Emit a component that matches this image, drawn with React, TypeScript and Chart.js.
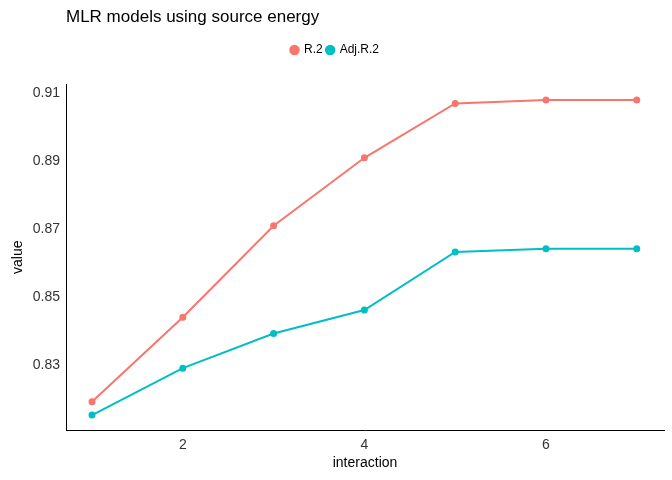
import { useEffect, useRef } from "react"
import { Chart, registerables } from "chart.js"

Chart.register(...registerables)

const interaction = [1, 2, 3, 4, 5, 6, 7]
const r2 = [0.8192, 0.8441, 0.871, 0.891, 0.907, 0.908, 0.908]
const adjR2 = [0.8153, 0.8291, 0.8393, 0.8462, 0.8633, 0.8642, 0.8642]
const xTicks = [2, 4, 6]
const yTicks = [0.83, 0.85, 0.87, 0.89, 0.91]

const FONT = "'Liberation Sans', Arial, sans-serif"

// push plot area down below the legend
const legendMargin = {
  id: "legendMargin",
  beforeInit(chart: any) {
    const orig = chart.legend.fit
    chart.legend.fit = function () {
      orig.bind(chart.legend)()
      this.height += 18
    }
  },
}

export default function App() {
  const canvasRef = useRef<HTMLCanvasElement>(null)

  useEffect(() => {
    document.body.style.margin = "0"
    if (!canvasRef.current) return
    const toPts = (ys: number[]) => ys.map((y, i) => ({ x: interaction[i], y }))
    const chart = new Chart(canvasRef.current, {
      type: "line",
      plugins: [legendMargin],
      data: {
        datasets: [
          { label: "R.2", data: toPts(r2), borderColor: "#F8766D", backgroundColor: "#F8766D", borderWidth: 2, pointRadius: 2.5, pointStyle: "circle" },
          { label: "Adj.R.2", data: toPts(adjR2), borderColor: "#00BFC4", backgroundColor: "#00BFC4", borderWidth: 2, pointRadius: 2.5, pointStyle: "circle" },
        ],
      },
      options: {
        animation: false,
        responsive: false,
        layout: { padding: { left: 6, right: 8, top: 40, bottom: 4 } },
        plugins: {
          title: { display: false },
          legend: {
            position: "top",
            labels: { color: "#000", font: { family: FONT, size: 12 }, usePointStyle: true, boxWidth: 7, boxHeight: 6, padding: 4 },
          },
          tooltip: { enabled: false },
        },
        scales: {
          x: {
            type: "linear",
            min: 0.714,
            max: 7.3,
            afterBuildTicks: (s) => { s.ticks = xTicks.map((v) => ({ value: v })) },
            grid: { display: false, tickLength: 4, color: "#333" },
            border: { display: true, color: "#000", width: 1 },
            ticks: { color: "#333", font: { family: FONT, size: 14 }, padding: 2 },
            title: { display: true, text: "interaction", color: "#000", font: { family: FONT, size: 14 }, padding: { top: 0 } },
          },
          y: {
            min: 0.8108,
            max: 0.9127,
            afterBuildTicks: (s) => { s.ticks = yTicks.map((v) => ({ value: v })) },
            grid: { display: false, tickLength: 4, color: "#333" },
            border: { display: true, color: "#000", width: 1 },
            ticks: { color: "#333", font: { family: FONT, size: 14 }, padding: 2, callback: (v) => Number(v).toFixed(2) },
            title: { display: true, text: "value", color: "#000", font: { family: FONT, size: 14 } },
          },
        },
      },
    })
    return () => chart.destroy()
  }, [])

  return (
    <div style={{ position: "relative", width: 672, height: 480 }}>
      <div style={{ position: "absolute", left: 66, top: 7, fontFamily: FONT, fontSize: 17, color: "#000" }}>
        MLR models using source energy
      </div>
      <canvas ref={canvasRef} width={672} height={480} style={{ display: "block" }} />
    </div>
  )
}
